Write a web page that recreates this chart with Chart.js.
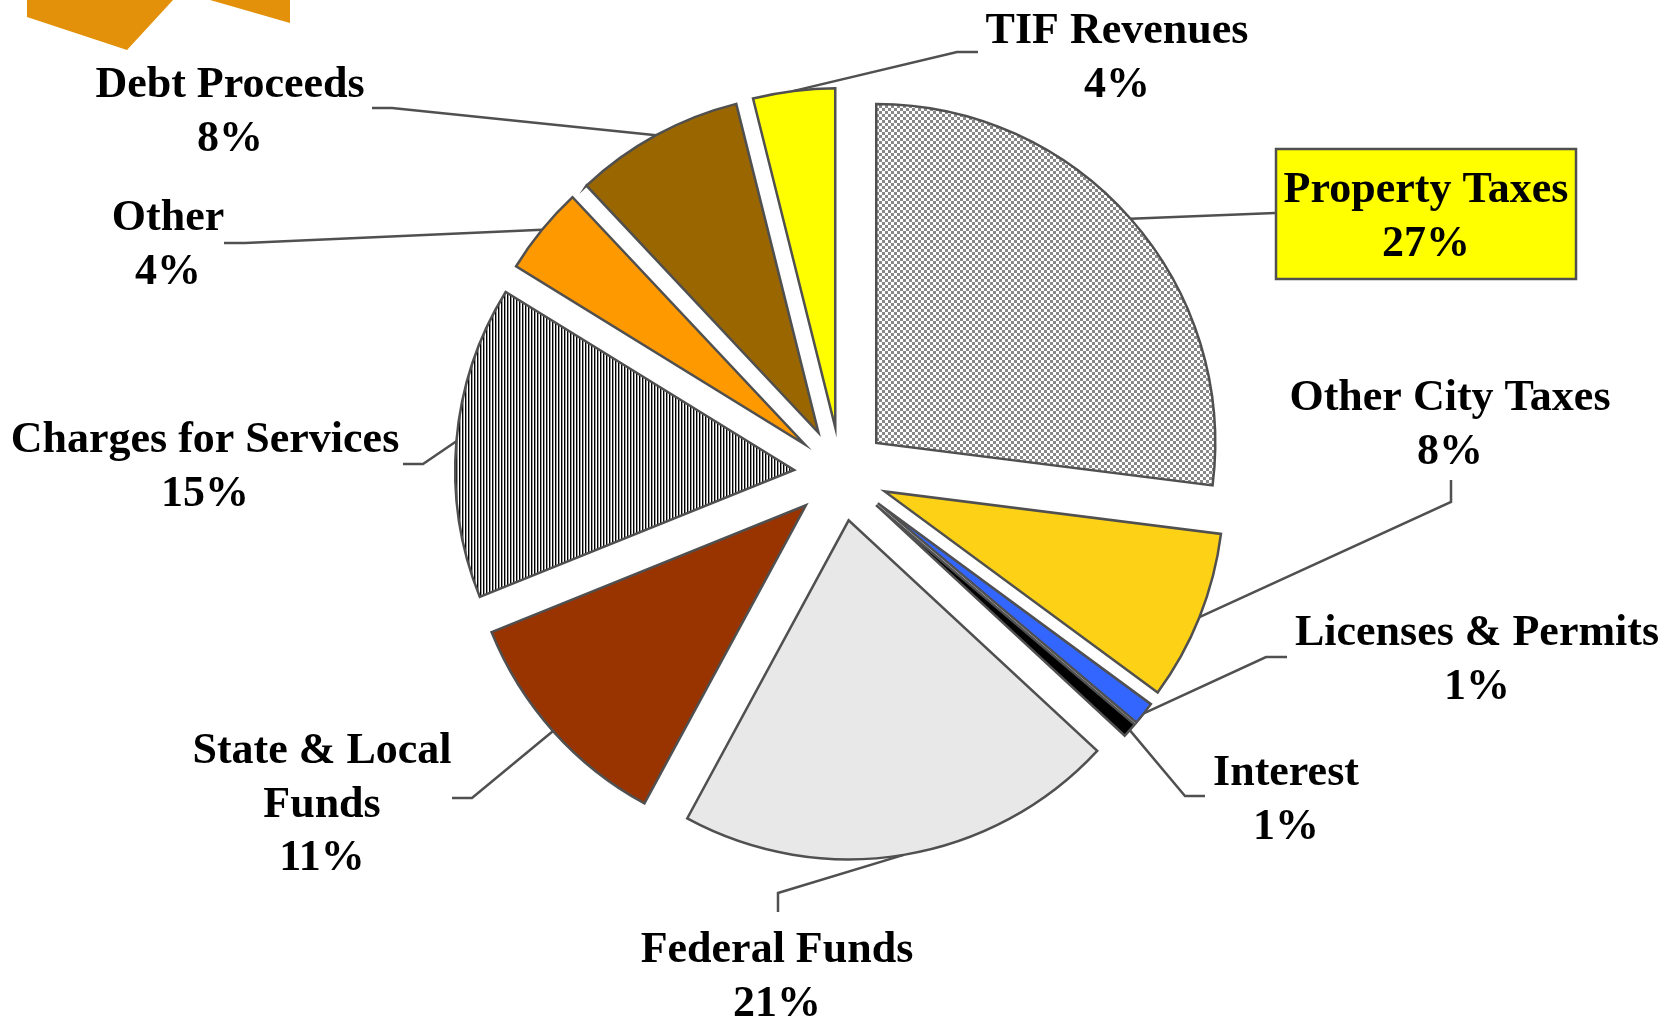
<!DOCTYPE html>
<html>
<head>
<meta charset="utf-8">
<script src="https://cdn.jsdelivr.net/npm/chart.js@4.4.0/dist/chart.umd.min.js"></script>
<style>
html,body{margin:0;padding:0;background:#fff;}
#wrap{width:1672px;height:1023px;position:relative;}
</style>
</head>
<body>
<div id="wrap"><canvas id="c"></canvas></div>
<script>
// ---- data ----
const categories = ['Property Taxes','Other City Taxes','Licenses & Permits','Interest','Federal Funds','State & Local Funds','Charges for Services','Other','Debt Proceeds','TIF Revenues'];
const shares = [27.0, 8.1, 1.1, 0.7, 21.0, 11.0, 14.9, 4.2, 8.1, 3.9];
const labelLines = [['Property Taxes'],['Other City Taxes'],['Licenses & Permits'],['Interest'],['Federal Funds'],['State & Local','Funds'],['Charges for Services'],['Other'],['Debt Proceeds'],['TIF Revenues']];

// ---- layout / style ----
const labelLayout = [
  {cx:1426, y:202, box:{x:1276,y:149,w:300,h:130}, path:[[1275,213]]},
  {cx:1450, y:410, path:[[1451,502],[1451,480]]},
  {cx:1477, y:645, path:[[1266,657],[1287,657]]},
  {cx:1286, y:785, path:[[1185,796],[1205,796]]},
  {cx:777,  y:962, path:[[778,893],[778,912]]},
  {cx:322,  y:763, path:[[472,798],[452,798]]},
  {cx:205,  y:452, path:[[423,464],[403,464]]},
  {cx:168,  y:230, path:[[245,243],[224,243]]},
  {cx:230,  y:97,  path:[[392,108],[372,108]]},
  {cx:1117, y:43,  path:[[957,52],[978,52]]}
];
const EXPLODE = 47;
const LINE_H = 53.5;
const FONT = 'bold 44px "Liberation Serif", "Times New Roman", serif';
const EDGE = '#505050';

function checker(){
  const c = document.createElement('canvas'); c.width = 6; c.height = 6;
  const g = c.getContext('2d');
  g.fillStyle = '#ffffff'; g.fillRect(0,0,6,6);
  g.fillStyle = '#888888'; g.fillRect(0,0,3,3); g.fillRect(3,3,3,3);
  return g.createPattern(c,'repeat');
}
function stripes(){
  const c = document.createElement('canvas'); c.width = 3; c.height = 3;
  const g = c.getContext('2d');
  g.fillStyle = '#ffffff'; g.fillRect(0,0,3,3);
  g.fillStyle = '#000000'; g.fillRect(0,0,1,3);
  g.fillStyle = '#999999'; g.fillRect(1,0,1,3);
  return g.createPattern(c,'repeat');
}
const colors = [checker(), '#FCD116', '#3366FF', '#000000', '#E8E8E8', '#993300', stripes(), '#FF9900', '#996600', '#FFFF00'];

const explodePlugin = {
  id: 'explode',
  beforeDatasetsDraw(chart){
    const a = chart.chartArea;
    const cx = (a.left + a.right)/2, cy = (a.top + a.bottom)/2;
    chart.getDatasetMeta(0).data.forEach(el => {
      const mid = (el.startAngle + el.endAngle)/2;
      el.x = cx + Math.cos(mid)*EXPLODE;
      el.y = cy + Math.sin(mid)*EXPLODE;
    });
  }
};

const logoPlugin = {
  id: 'logo',
  beforeDraw(chart){
    const ctx = chart.ctx;
    ctx.save();
    ctx.fillStyle = '#E3900A';
    ctx.beginPath();
    ctx.moveTo(27,0); ctx.lineTo(27,17); ctx.lineTo(127,50); ctx.lineTo(173,0); ctx.closePath(); ctx.fill();
    ctx.beginPath();
    ctx.moveTo(210,0); ctx.lineTo(290,23); ctx.lineTo(290,0); ctx.closePath(); ctx.fill();
    ctx.restore();
  }
};

const labelPlugin = {
  id: 'labels',
  afterDatasetsDraw(chart){
    const ctx = chart.ctx;
    const meta = chart.getDatasetMeta(0);
    const total = shares.reduce((s,v)=>s+v,0);
    ctx.save();
    meta.data.forEach((el, i) => {
      const L = labelLayout[i];
      const mid = (el.startAngle + el.endAngle)/2;
      const sx = el.x + Math.cos(mid)*el.outerRadius;
      const sy = el.y + Math.sin(mid)*el.outerRadius;
      ctx.strokeStyle = EDGE; ctx.lineWidth = 2.5;
      ctx.beginPath(); ctx.moveTo(sx, sy);
      L.path.forEach(p => ctx.lineTo(p[0], p[1]));
      ctx.stroke();
      if (L.box){
        ctx.fillStyle = '#FFFF00';
        ctx.fillRect(L.box.x, L.box.y, L.box.w, L.box.h);
        ctx.lineWidth = 2.5; ctx.strokeStyle = EDGE;
        ctx.strokeRect(L.box.x, L.box.y, L.box.w, L.box.h);
      }
      const lines = labelLines[i].concat([Math.round(shares[i]/total*100) + '%']);
      ctx.fillStyle = '#000'; ctx.font = FONT; ctx.textAlign = 'center'; ctx.textBaseline = 'alphabetic';
      lines.forEach((t, k) => ctx.fillText(t, L.cx, L.y + k*LINE_H));
    });
    ctx.restore();
  }
};

new Chart(document.getElementById('c'), {
  type: 'pie',
  data: {
    labels: categories,
    datasets: [{
      data: shares,
      backgroundColor: colors,
      borderColor: EDGE,
      borderWidth: 2.5,
      borderJoinStyle: 'miter'
    }]
  },
  options: {
    responsive: true,
    maintainAspectRatio: false,
    animation: false,
    radius: 339,
    layout: {padding: {left: 10, right: 0, top: 0, bottom: 75}},
    plugins: {legend: {display: false}, tooltip: {enabled: false}}
  },
  plugins: [logoPlugin, explodePlugin, labelPlugin]
});
</script>
</body>
</html>
